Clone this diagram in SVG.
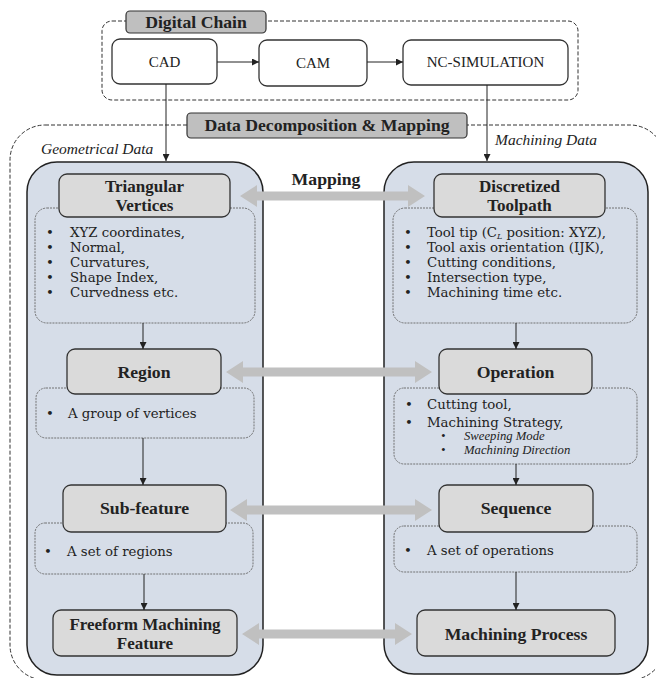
<svg xmlns="http://www.w3.org/2000/svg" width="656" height="678" viewBox="0 0 656 678">
<defs>
<style>
text{font-family:'Liberation Serif','DejaVu Serif',serif;fill:#222}
.b{font-weight:bold;font-size:17.7px;text-anchor:middle}
.b2{font-weight:bold;font-size:17px;text-anchor:middle}
.r{font-size:13.3px}
.r text{font-family:'DejaVu Serif','Liberation Serif',serif}
.c{font-size:15px;text-anchor:middle}
.i{font-style:italic;font-size:15.5px}
.s{font-style:italic;font-size:12.7px}
.dash{fill:none;stroke:#333;stroke-width:1;stroke-dasharray:4 2}
.dot{fill:none;stroke:#666;stroke-width:0.9;stroke-dasharray:2 1}
.big{fill:#d6dde8;stroke:#222;stroke-width:1.5}
.node{fill:#dadada;stroke:#333;stroke-width:1.3}
.lbl{fill:#bfbfbf;stroke:#333;stroke-width:1.2}
.w{fill:#fff;stroke:#333;stroke-width:1.3}
.ln{stroke:#222;stroke-width:1;fill:none}
.map{fill:#c0c0c0}
</style>
<marker id="ah" viewBox="0 0 10 10" refX="10" refY="5" markerWidth="7" markerHeight="7" orient="auto" markerUnits="userSpaceOnUse"><path d="M0,0L10,5L0,10z" fill="#222"/></marker>
</defs>

<g id="digital-chain">
<rect class="dash" x="102" y="21" width="476" height="79" rx="10"/>
<rect class="lbl" x="126" y="11" width="140" height="22" rx="4"/>
<text class="b" x="196" y="28">Digital Chain</text>
</g>
<g id="cad"><rect class="w" x="112" y="39" width="105" height="45" rx="8"/><text class="c" x="164.5" y="67">CAD</text></g>
<g id="cam"><rect class="w" x="259" y="40" width="108" height="46" rx="8"/><text class="c" x="313" y="68">CAM</text></g>
<g id="nc"><rect class="w" x="403" y="40" width="165" height="45" rx="8"/><text class="c" x="485.5" y="67">NC-SIMULATION</text></g>

<g id="data-decomposition">
<rect class="dash" x="10" y="125" width="655" height="555" rx="35"/>
<rect class="lbl" x="187" y="113" width="280" height="25" rx="4"/>
<text class="b" x="327" y="131">Data Decomposition &amp; Mapping</text>
<text class="i" x="41" y="154">Geometrical Data</text>
<text class="i" x="495" y="145">Machining Data</text>
</g>

<g id="geometrical-panel"><rect class="big" x="27" y="162" width="236" height="513" rx="30"/></g>
<g id="machining-panel"><rect class="big" x="384" y="162" width="264" height="512" rx="30"/></g>

<g id="triangular-vertices">
<rect class="dot" x="35" y="208" width="220" height="115" rx="12"/>
<rect class="node" x="59" y="174" width="171" height="43" rx="8"/>
<text class="b2" x="144.5" y="192">Triangular</text>
<text class="b2" x="144.5" y="211">Vertices</text>
<g class="r"><text x="46" y="237">•</text><text x="70" y="237">XYZ coordinates,</text>
<text x="46" y="252">•</text><text x="70" y="252">Normal,</text>
<text x="46" y="267">•</text><text x="70" y="267">Curvatures,</text>
<text x="46" y="282">•</text><text x="70" y="282">Shape Index,</text>
<text x="46" y="297">•</text><text x="70" y="297">Curvedness etc.</text></g>
</g>

<g id="region">
<rect class="dot" x="36" y="388" width="218" height="50" rx="10"/>
<rect class="node" x="67" y="349" width="154" height="45" rx="8"/>
<text class="b" x="144" y="378">Region</text>
<g class="r"><text x="46" y="418">•</text><text x="68" y="418">A group of vertices</text></g>
</g>

<g id="sub-feature">
<rect class="dot" x="35" y="523" width="218" height="51" rx="10"/>
<rect class="node" x="63" y="485" width="163" height="47" rx="8"/>
<text class="b" x="144.5" y="514">Sub-feature</text>
<g class="r"><text x="44" y="556">•</text><text x="67" y="556">A set of regions</text></g>
</g>

<g id="freeform-machining-feature">
<rect class="node" x="53" y="610" width="184" height="46" rx="8"/>
<text class="b2" x="145" y="630">Freeform Machining</text>
<text class="b2" x="145" y="649">Feature</text>
</g>

<g id="discretized-toolpath">
<rect class="dot" x="393" y="208" width="244" height="115" rx="12"/>
<rect class="node" x="434" y="174" width="171" height="43" rx="8"/>
<text class="b2" x="519.5" y="192">Discretized</text>
<text class="b2" x="519.5" y="211">Toolpath</text>
<g class="r"><text x="404" y="237">•</text><text x="427" y="237">Tool tip (C<tspan font-size="8" font-style="italic" dy="1.5">L</tspan><tspan dy="-1.5"> position: XYZ),</tspan></text>
<text x="404" y="252">•</text><text x="427" y="252">Tool axis orientation (IJK),</text>
<text x="404" y="267">•</text><text x="427" y="267">Cutting conditions,</text>
<text x="404" y="282">•</text><text x="427" y="282">Intersection type,</text>
<text x="404" y="297">•</text><text x="427" y="297">Machining time etc.</text></g>
</g>

<g id="operation">
<rect class="dot" x="394" y="388" width="243" height="76" rx="10"/>
<rect class="node" x="439" y="349" width="153" height="45" rx="8"/>
<text class="b" x="515.5" y="378">Operation</text>
<g class="r"><text x="405" y="409">•</text><text x="427" y="409">Cutting tool,</text>
<text x="405" y="427">•</text><text x="427" y="427">Machining Strategy,</text></g>
<g class="s"><text x="441" y="440">•</text><text x="464" y="440">Sweeping Mode</text>
<text x="441" y="454">•</text><text x="464" y="454">Machining  Direction</text></g>
</g>

<g id="sequence">
<rect class="dot" x="394" y="526" width="243" height="46" rx="10"/>
<rect class="node" x="439" y="485" width="154" height="47" rx="8"/>
<text class="b" x="516" y="514">Sequence</text>
<g class="r"><text x="404" y="555">•</text><text x="427" y="555">A set of operations</text></g>
</g>

<g id="machining-process">
<rect class="node" x="417" y="610" width="198" height="46" rx="8"/>
<text class="b" x="516" y="640">Machining Process</text>
</g>

<g id="mapping-label"><text class="b" x="326" y="185">Mapping</text></g>

<g id="connectors">
<line class="ln" x1="217" y1="62" x2="259" y2="62" marker-end="url(#ah)"/>
<line class="ln" x1="367" y1="62" x2="403" y2="62" marker-end="url(#ah)"/>
<line class="ln" x1="166" y1="84" x2="166" y2="161" marker-end="url(#ah)"/>
<line class="ln" x1="487" y1="85" x2="487" y2="161" marker-end="url(#ah)"/>
<line class="ln" x1="143" y1="323" x2="143" y2="349" marker-end="url(#ah)"/>
<line class="ln" x1="143" y1="438" x2="143" y2="485" marker-end="url(#ah)"/>
<line class="ln" x1="144" y1="574" x2="144" y2="610" marker-end="url(#ah)"/>
<line class="ln" x1="516" y1="323" x2="516" y2="349" marker-end="url(#ah)"/>
<line class="ln" x1="516" y1="464" x2="516" y2="485" marker-end="url(#ah)"/>
<line class="ln" x1="516" y1="572" x2="516" y2="610" marker-end="url(#ah)"/>
<polygon class="map" points="240,196 257,185 257,191.5 408,191.5 408,185 425,196 408,207 408,200.5 257,200.5 257,207"/>
<polygon class="map" points="226,372 243,361 243,367.5 415,367.5 415,361 432,372 415,383 415,376.5 243,376.5 243,383"/>
<polygon class="map" points="230,510 247,499 247,505.5 415,505.5 415,499 432,510 415,521 415,514.5 247,514.5 247,521"/>
<polygon class="map" points="242,634 259,623 259,629.5 395,629.5 395,623 412,634 395,645 395,638.5 259,638.5 259,645"/>
</g>
</svg>
